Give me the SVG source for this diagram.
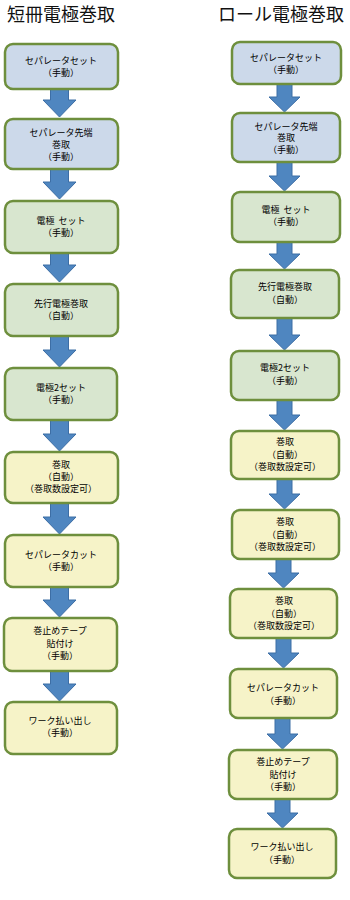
<svg xmlns="http://www.w3.org/2000/svg" width="350" height="900" viewBox="0 0 350 900">
<style>
.t{font-family:"Noto Sans CJK JP","Noto Sans CJK SC",sans-serif;font-size:9px;fill:#000;text-anchor:middle;white-space:pre}
.h{font-family:"Noto Sans CJK JP","Noto Sans CJK SC",sans-serif;font-size:18px;fill:#111}
.b{fill:#CCD9EA;stroke:#6E8F3D;stroke-width:2.5}
.g{fill:#D8E6CF;stroke:#6E8F3D;stroke-width:2.5}
.y{fill:#F6F3C8;stroke:#6E8F3D;stroke-width:2.5}
.a{fill:#4F86C0;stroke:#3D6EA5;stroke-width:1}
</style>
<rect width="350" height="900" fill="#fff"/>
<text class="h" x="7" y="21">短冊電極巻取</text>
<text class="h" x="218" y="21">ロール電極巻取</text>
<g id="connectors">
<path class="a" d="M50.5,89 H68.5 V100 H76 L59.5,117 L43,100 H50.5 Z"/>
<path class="a" d="M50.5,169 H68.5 V182 H76 L59.5,199 L43,182 H50.5 Z"/>
<path class="a" d="M50.5,253 H68.5 V265 H76 L59.5,282 L43,265 H50.5 Z"/>
<path class="a" d="M50.5,336 H68.5 V350 H76 L59.5,367 L43,350 H50.5 Z"/>
<path class="a" d="M50.5,420 H68.5 V434 H76 L59.5,451 L43,434 H50.5 Z"/>
<path class="a" d="M50.5,503 H68.5 V517 H76 L59.5,534 L43,517 H50.5 Z"/>
<path class="a" d="M50.5,587 H68.5 V600 H76 L59.5,617 L43,600 H50.5 Z"/>
<path class="a" d="M50.5,671 H68.5 V684 H76 L59.5,701 L43,684 H50.5 Z"/>
<path class="a" d="M277,84 H292 V97 H300 L284.5,112 L269,97 H277 Z"/>
<path class="a" d="M277,162 H292 V176 H300 L284.5,191 L269,176 H277 Z"/>
<path class="a" d="M277,242 H292 V254 H300 L284.5,269 L269,254 H277 Z"/>
<path class="a" d="M277,318 H292 V335 H300 L284.5,350 L269,335 H277 Z"/>
<path class="a" d="M277,400 H292 V415 H300 L284.5,430 L269,415 H277 Z"/>
<path class="a" d="M277,479 H292 V494 H300 L284.5,509 L269,494 H277 Z"/>
<path class="a" d="M276,559 H291 V573 H299 L283.5,588 L268,573 H276 Z"/>
<path class="a" d="M276,638 H291 V653 H299 L283.5,668 L268,653 H276 Z"/>
<path class="a" d="M275,718 H290 V734 H298 L282.5,749 L267,734 H275 Z"/>
<path class="a" d="M275,799 H290 V813 H298 L282.5,828 L267,813 H275 Z"/>
</g>
<g id="L1"><rect class="b" x="5" y="44" width="113" height="45" rx="8"/><text class="t" x="61" y="64">セパレータセット</text><text class="t" x="61" y="76">（手動）</text></g>
<g id="L2"><rect class="b" x="5" y="119" width="113" height="50" rx="8"/><text class="t" x="61" y="135.5">セパレータ先端</text><text class="t" x="61" y="147.5">巻取</text><text class="t" x="61" y="159.5">（手動）</text></g>
<g id="L3"><rect class="g" x="5" y="201" width="113" height="52" rx="8"/><text class="t" x="61" y="224" xml:space="preserve">電極  セット</text><text class="t" x="61" y="236">（手動）</text></g>
<g id="L4"><rect class="g" x="5" y="284" width="113" height="52" rx="8"/><text class="t" x="61" y="307">先行電極巻取</text><text class="t" x="61" y="319">（自動）</text></g>
<g id="L5"><rect class="g" x="5" y="368" width="112" height="52" rx="8"/><text class="t" x="61" y="391">電極2セット</text><text class="t" x="61" y="403">（手動）</text></g>
<g id="L6"><rect class="y" x="5" y="452" width="113" height="51" rx="8"/><text class="t" x="61" y="468">巻取</text><text class="t" x="61" y="480">（自動）</text><text class="t" x="61" y="492">（巻取数設定可）</text></g>
<g id="L7"><rect class="y" x="5" y="535" width="113" height="52" rx="8"/><text class="t" x="61" y="558">セパレータカット</text><text class="t" x="61" y="570">（手動）</text></g>
<g id="L8"><rect class="y" x="4" y="618" width="113" height="53" rx="8"/><text class="t" x="60" y="634">巻止めテープ</text><text class="t" x="60" y="647">貼付け</text><text class="t" x="60" y="659">（手動）</text></g>
<g id="L9"><rect class="y" x="5" y="702" width="112" height="52" rx="8"/><text class="t" x="60" y="724">ワーク払い出し</text><text class="t" x="60" y="736">（手動）</text></g>
<g id="R1"><rect class="b" x="232" y="42" width="109" height="42" rx="8"/><text class="t" x="286" y="61">セパレータセット</text><text class="t" x="286" y="72.5">（手動）</text></g>
<g id="R2"><rect class="b" x="232" y="113" width="108" height="49" rx="8"/><text class="t" x="286" y="129.5">セパレータ先端</text><text class="t" x="286" y="141">巻取</text><text class="t" x="286" y="152.5">（手動）</text></g>
<g id="R3"><rect class="g" x="232" y="192" width="108" height="50" rx="8"/><text class="t" x="286" y="213" xml:space="preserve">電極  セット</text><text class="t" x="286" y="225">（手動）</text></g>
<g id="R4"><rect class="g" x="231" y="270" width="108" height="48" rx="8"/><text class="t" x="285" y="290">先行電極巻取</text><text class="t" x="285" y="303">（自動）</text></g>
<g id="R5"><rect class="g" x="231" y="351" width="108" height="49" rx="8"/><text class="t" x="285" y="371">電極2セット</text><text class="t" x="285" y="384">（手動）</text></g>
<g id="R6"><rect class="y" x="231" y="431" width="108" height="48" rx="8"/><text class="t" x="285" y="445">巻取</text><text class="t" x="285" y="458">（自動）</text><text class="t" x="285" y="470">（巻取数設定可）</text></g>
<g id="R7"><rect class="y" x="232" y="510" width="107" height="49" rx="8"/><text class="t" x="285" y="525">巻取</text><text class="t" x="285" y="538">（自動）</text><text class="t" x="285" y="550">（巻取数設定可）</text></g>
<g id="R8"><rect class="y" x="230" y="589" width="107" height="49" rx="8"/><text class="t" x="284" y="604">巻取</text><text class="t" x="284" y="617">（自動）</text><text class="t" x="284" y="629">（巻取数設定可）</text></g>
<g id="R9"><rect class="y" x="230" y="669" width="107" height="49" rx="8"/><text class="t" x="283" y="691">セパレータカット</text><text class="t" x="283" y="704">（手動）</text></g>
<g id="R10"><rect class="y" x="229" y="750" width="108" height="49" rx="8"/><text class="t" x="283" y="765">巻止めテープ</text><text class="t" x="283" y="778">貼付け</text><text class="t" x="283" y="790">（手動）</text></g>
<g id="R11"><rect class="y" x="229" y="829" width="107" height="49" rx="8"/><text class="t" x="282" y="850">ワーク払い出し</text><text class="t" x="282" y="863">（手動）</text></g>
</svg>
